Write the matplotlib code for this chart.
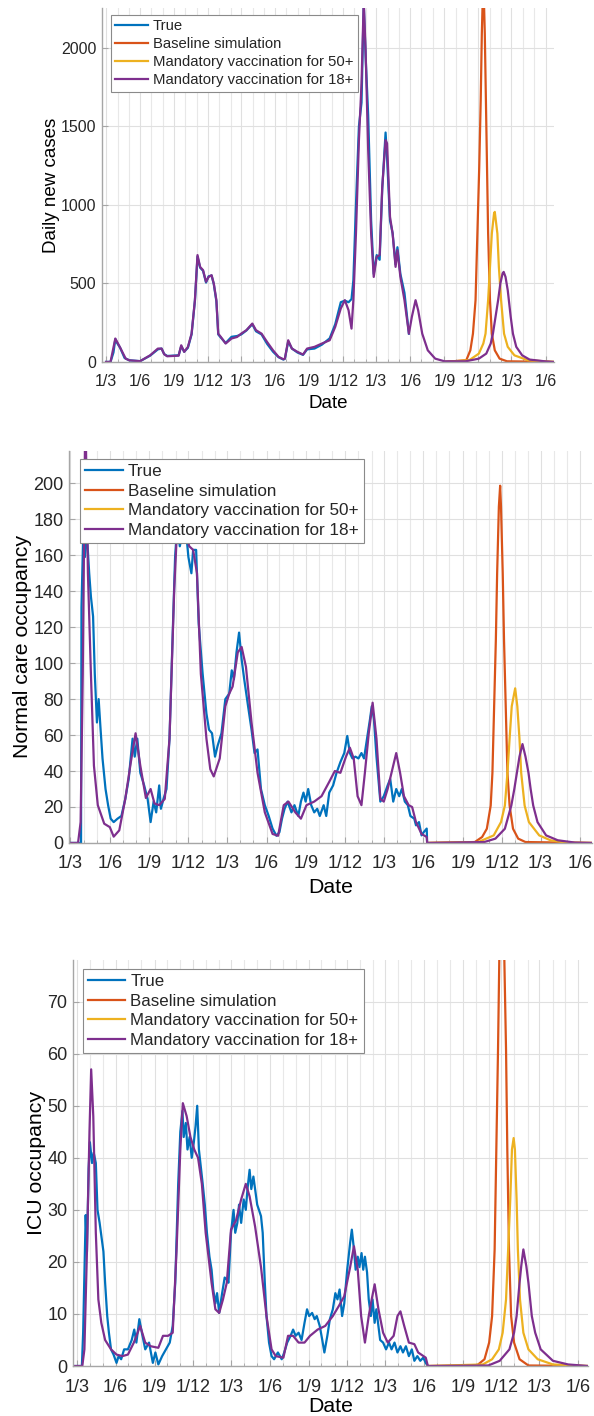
import numpy as np
import matplotlib
matplotlib.use("Agg")
import matplotlib.pyplot as plt
import matplotlib.dates as mdates
import matplotlib.ticker as ticker

# fecha de referencia: dias contados desde el 1/3/2020
start = np.datetime64('2020-03-01')

# ---------------- PANEL 1: casos diarios ----------------
cases_true_day = [0, 12, 20, 25, 30, 38, 50, 63, 92, 119, 140, 150, 157, 165, 196, 203, 211, 221, 231, 240,
                  247, 254, 262, 270, 277, 285, 291, 298, 303, 310, 323, 339, 354, 365, 379, 395, 405, 420,
                  435, 451, 466, 479, 483, 492, 502, 517, 532, 543, 563, 583, 604, 619, 634, 645, 655, 663,
                  668, 675, 683, 690, 696, 701, 708, 716, 723, 731, 739, 746, 755, 759, 767, 774, 782, 787,
                  795, 806, 818]
cases_true_val = [0, 0, 60, 145, 120, 90, 25, 10, 5, 40, 80, 85, 50, 38, 42, 100, 65, 90, 175, 390,
                  670, 600, 580, 505, 545, 550, 495, 385, 175, 155, 120, 160, 165, 175, 200, 240, 195, 175,
                  115, 65, 30, 15, 20, 130, 85, 60, 45, 80, 85, 110, 150, 240, 380, 390, 380, 400,
                  520, 1000, 1500, 1650, 2280, 1950, 1570, 900, 560, 680, 650, 1100, 1460, 1300, 900, 820, 620, 730,
                  560, 440, 180]

cases_18_day = [0, 12, 25, 37, 53, 63, 92, 119, 140, 150, 157, 165, 196, 203, 211, 221, 231, 240, 247, 254,
                262, 270, 277, 285, 291, 298, 303, 310, 323, 339, 354, 365, 379, 395, 405, 420, 435, 451,
                466, 479, 483, 492, 502, 517, 532, 543, 563, 583, 604, 619, 634, 645, 655, 663, 668, 675,
                683, 690, 696, 701, 708, 716, 723, 731, 739, 746, 755, 759, 767, 774, 782, 787, 795, 806,
                818, 826, 836, 843, 854, 869, 889, 914, 971, 1007, 1027, 1039, 1045, 1052, 1059, 1065, 1071,
                1074, 1079, 1085, 1093, 1099, 1108, 1124, 1144, 1185, 1210]
cases_18_val = [0, 0, 149, 96, 21, 10, 5, 42, 85, 85, 49, 36, 40, 106, 64, 95, 180, 393, 680, 605,
                584, 510, 541, 552, 499, 393, 180, 159, 117, 149, 159, 180, 202, 244, 202, 180, 127, 74,
                32, 17, 21, 138, 85, 64, 47, 85, 96, 117, 138, 223, 340, 393, 329, 212, 393, 817,
                1412, 1773, 2300, 1985, 1348, 817, 541, 669, 680, 1115, 1412, 1391, 923, 817, 605, 711, 541, 393,
                180, 287, 393, 329, 180, 74, 21, 4, 4, 21, 53, 117, 180, 287, 393, 499, 563,
                573, 541, 456, 287, 180, 96, 42, 15, 4, 0]

cases_base_day = [914, 973, 984, 991, 998, 1003, 1008, 1012, 1015, 1019, 1023, 1026, 1029, 1032, 1037,
                  1042, 1050, 1063, 1083, 1210]
cases_base_val = [0, 11, 74, 180, 393, 817, 1242, 1667, 2091, 2450, 2091, 1667, 1242, 817, 393,
                  180, 74, 21, 4, 0]

cases_50_day = [914, 981, 1007, 1019, 1025, 1032, 1037, 1042, 1048, 1050, 1057, 1061, 1067, 1075, 1085,
                1103, 1139, 1210]
cases_50_val = [0, 11, 53, 117, 180, 393, 605, 817, 945, 955, 817, 605, 393, 180, 96,
                42, 11, 0]

# ---------------- PANEL 2: ocupacion normal ----------------
ward_true_day = [0, 25, 26, 31, 34, 38, 44, 48, 53, 57, 62, 66, 70, 75, 82, 88, 94, 101, 110, 119,
                 128, 136, 145, 150, 156, 163, 172, 180, 187, 194, 200, 207, 211, 217, 224, 231, 238, 244,
                 249, 255, 261, 268, 275, 282, 286, 293, 299, 308, 317, 323, 330, 337, 343, 352, 361, 370,
                 376, 381, 387, 393, 399, 405, 414, 422, 429, 436, 444, 453, 462, 471, 480, 487, 493, 499,
                 506, 515, 522, 531, 537, 543, 548, 554, 561, 568, 575, 581, 590, 596, 603, 612, 620, 629,
                 638, 645, 651, 657, 664, 671, 678, 684, 691, 698, 702, 707, 713, 722, 730, 739, 745, 752,
                 759, 766, 772, 779, 786, 792, 801, 805, 812, 818, 823, 830, 831]
ward_true_val = [0, 0, 131, 181, 159, 174, 150, 137, 126, 94, 67, 80, 65, 47, 30, 21, 13.5, 11.6, 13.5, 15,
                 24.5, 35.6, 58, 48, 58, 39, 32, 24.5, 11.6, 23, 17, 32, 19, 24.5, 30, 58, 113, 159,
                 177, 165, 172, 177, 159, 150, 163, 163, 122, 94.5, 72, 63, 61, 48, 54, 61, 80, 83,
                 96, 91, 106, 117, 102, 91, 76, 63, 50, 52, 30, 21, 15, 8, 4, 6, 13.5, 19,
                 23, 17, 21, 15, 23, 28, 23, 30, 21, 17, 19, 15, 21, 15, 28, 32, 39, 45,
                 50, 59.5, 50, 47, 48, 47, 50, 47, 58, 69, 76, 69, 48, 23, 26, 32, 35.6, 23,
                 30, 26, 30, 23, 21, 15, 13.5, 9.8, 11.6, 4.2, 6, 8, 0]

ward_18_day = [0, 18, 24, 29, 34, 36, 41, 48, 55, 64, 79, 92, 101, 114, 128, 141, 152, 163, 176, 187,
               196, 207, 220, 231, 242, 251, 264, 277, 286, 295, 304, 317, 326, 334, 348, 361, 370, 378,
               390, 399, 409, 422, 436, 453, 471, 484, 497, 508, 524, 537, 550, 568, 585, 603, 616, 629,
               642, 651, 660, 669, 678, 686, 695, 704, 713, 722, 730, 739, 750, 759, 768, 777, 788, 796,
               805, 818, 830, 831, 964, 990, 1012, 1027, 1034, 1040, 1046, 1053, 1060, 1067, 1072, 1078,
               1088, 1108, 1135, 1175, 1215]
ward_18_val = [0, 0, 11.6, 94, 218, 228, 150, 94, 43, 21, 10.7, 8.8, 3.5, 7, 24.5, 45, 61, 43, 25, 30,
               22, 21, 24.5, 58, 141, 187, 176, 165, 163, 150, 94, 58, 41, 37, 47, 76, 83, 87,
               106, 109, 98, 67, 39, 17, 5, 4, 21, 23, 17, 13.5, 21, 23, 26, 34, 40, 39,
               48, 53, 47, 26, 21, 39, 61, 78, 58, 24.5, 23, 30, 41, 50, 39, 26, 21, 20,
               11.6, 5, 3.3, 0, 0.5, 2.4, 7.9, 20.8, 30, 39, 48, 55, 48, 39, 30, 20.8,
               11.6, 4.2, 1.5, 0.2, 0]

ward_base_day = [831, 942, 959, 970, 979, 983, 987, 991, 994, 998, 1001, 1003, 1007, 1010, 1014, 1018,
                 1023, 1031, 1043, 1060, 1215]
ward_base_val = [0, 0.5, 3.3, 7.9, 20.8, 39, 76, 113, 150, 187, 198.7, 187, 150, 113, 76, 39,
                 20.8, 7.9, 2.4, 0.5, 0]

ward_50_day = [831, 950, 986, 1003, 1012, 1018, 1023, 1028, 1036, 1041, 1046, 1050, 1058, 1068, 1092,
               1118, 1153, 1215]
ward_50_val = [0, 0.5, 4.2, 11.6, 20.8, 39, 58, 76, 86, 76, 58, 39, 20.8, 11.6, 4.2,
               1.5, 0.2, 0]

# ---------------- PANEL 3: ocupacion UCI ----------------
icu_true_day = [-9, 12, 15, 21, 24, 28, 31, 36, 40, 45, 49, 54, 58, 63, 67, 72, 76, 81, 87, 94,
                99, 105, 112, 121, 130, 136, 141, 148, 154, 162, 171, 180, 186, 193, 202, 211, 220, 227,
                233, 240, 245, 250, 253, 258, 262, 267, 272, 277, 281, 285, 289, 294, 298, 303, 308, 314,
                319, 323, 328, 332, 337, 344, 350, 355, 359, 365, 371, 375, 380, 384, 389, 395, 400, 404,
                409, 413, 418, 422, 427, 431, 436, 440, 445, 449, 455, 461, 467, 476, 485, 491, 498, 506,
                512, 518, 525, 532, 539, 545, 550, 557, 563, 568, 575, 581, 586, 593, 599, 606, 612, 617,
                622, 628, 633, 640, 647, 651, 656, 660, 665, 669, 674, 678, 682, 687, 691, 696, 700, 705,
                709, 714, 718, 725, 732, 739, 745, 752, 759, 766, 772, 779, 786, 793, 799, 806, 813, 820,
                826, 831]
icu_true_val = [0, 0, 6.4, 29, 22, 38, 43, 39, 41, 39, 30, 27.5, 25, 22, 16, 9.6, 6.4, 3.2, 2.2, 0.6,
                1.9, 1.3, 3.2, 3.2, 5, 7, 4.5, 9, 6.4, 3.2, 4.5, 0.6, 2.6, 0.3, 1.9, 3.2, 4.5, 7.7,
                16, 35, 45, 49, 44, 46.7, 41.6, 44, 40, 43, 46, 50, 41.6, 38, 35, 31, 25.6, 21,
                18.5, 14.7, 12, 14, 10.2, 14, 17, 16.6, 16, 25.6, 30, 25.6, 27.5, 31, 27.5, 32, 30, 34,
                37.7, 34, 36.4, 34, 31, 30, 28.8, 25.6, 16, 9.6, 4.5, 1.9, 1.3, 2.6, 1.3, 2.6, 4.5, 5.8,
                7, 5.8, 6.4, 5, 8.3, 10.9, 9.6, 10.2, 9, 9.6, 7.7, 5, 2.6, 5.8, 9, 10.9, 14, 12.8,
                14.7, 9.6, 12, 18.5, 23.7, 26.2, 22.4, 18.5, 21, 19, 21.7, 18.5, 21, 18, 12.8, 9.6, 12.8, 8.3,
                10.9, 7.7, 5, 4.5, 3.2, 4.5, 3.2, 4.5, 2.6, 3.8, 2.6, 3.8, 1.9, 3.2, 1, 1.9, 1, 1.6,
                0.6, 0]

icu_18_day = [-9, 13, 18, 24, 30, 34, 39, 45, 51, 58, 67, 81, 94, 108, 121, 135, 150, 162, 175, 193,
              204, 216, 227, 236, 245, 251, 260, 269, 278, 287, 296, 305, 319, 328, 337, 346, 355, 365,
              377, 389, 400, 409, 422, 436, 449, 461, 471, 489, 500, 512, 525, 539, 552, 570, 588, 606,
              620, 633, 647, 656, 665, 673, 682, 691, 698, 705, 714, 725, 736, 750, 759, 766, 775, 786,
              799, 808, 826, 831, 974, 1001, 1024, 1035, 1041, 1048, 1052, 1057, 1064, 1069, 1077, 1085,
              1098, 1127, 1163, 1210]
icu_18_val = [0, 0, 3.2, 22, 45, 57, 48, 25.6, 12.8, 8.3, 5, 3.2, 2.2, 1.9, 2.2, 4.5, 7.7, 4.5, 3.8, 3.5,
              5.8, 5.8, 6.4, 22, 41.6, 50.5, 48, 44, 41.6, 40, 35, 25.6, 16, 10.9, 10.2, 12.8, 16, 26.2,
              28, 32, 35, 32.6, 26.8, 19, 9.6, 3.2, 1.9, 1.6, 5.8, 5.8, 4.5, 4.5, 5.8, 7, 7.7, 9.6,
              11.5, 13.4, 19, 23, 18.5, 9.6, 4.5, 9.6, 12.8, 15.7, 10.9, 6.4, 4.5, 5.8, 9.6, 10.5, 7.7, 4.5,
              4.2, 2.6, 1.6, 0, 0.1, 1, 3.2, 6.4, 9.6, 16, 19.2, 22.4, 19.2, 16, 9.6, 6.4,
              3.2, 1, 0.3, 0]

icu_base_day = [831, 947, 965, 976, 983, 989, 993, 997, 1000, 1006, 1012, 1016, 1019, 1023, 1028,
                1035, 1048, 1069, 1210]
icu_base_val = [0, 0.1, 1.3, 4.5, 9.6, 22.4, 41.6, 60.7, 78, 88, 78, 60.7, 41.6, 22.4, 9.6,
                4.5, 1.3, 0.1, 0]

icu_50_day = [831, 961, 983, 999, 1008, 1016, 1021, 1026, 1030, 1034, 1037, 1041, 1044, 1049, 1057,
              1069, 1091, 1127, 1210]
icu_50_val = [0, 0.3, 1.3, 3.2, 6.4, 12.8, 22.4, 32, 41.6, 43.8, 41.6, 32, 22.4, 12.8, 6.4,
              3.2, 1.3, 0.3, 0]

# etiquetas y colores
labels = ["True", "Baseline simulation", "Mandatory vaccination for 50+", "Mandatory vaccination for 18+"]
colores = ["#0072BD", "#D95319", "#EDB120", "#7E2F8E"]


def fechas(dias):
    return start + np.array(np.round(dias), dtype='int64').astype('timedelta64[D]')


def fmt_fecha(x, pos=None):
    d = mdates.num2date(x)
    return f"{d.day}/{d.month}"


plt.rcParams['font.family'] = ['Liberation Sans', 'DejaVu Sans']
plt.rcParams['text.color'] = '#262626'

fig = plt.figure(figsize=(5.94, 14.16), dpi=100)

paneles = [
    dict(rect=[0.1717, 0.7444, 0.761, 0.2500],
         series=[(cases_true_day, cases_true_val), (cases_base_day, cases_base_val),
                 (cases_50_day, cases_50_val), (cases_18_day, cases_18_val)],
         ylabel="Daily new cases", ylim=(0, 2253), yticks=[0, 500, 1000, 1500, 2000],
         xlim=(-11, 1210), fs_tick=11.5, fs_lab=13.5, fs_leg=10.7, leg=(0.1869, 0.9894), lsp=0.26,
         xpad=4),
    dict(rect=[0.1162, 0.4047, 0.8805, 0.2768],
         series=[(ward_true_day, ward_true_val), (ward_base_day, ward_base_val),
                 (ward_50_day, ward_50_val), (ward_18_day, ward_18_val)],
         ylabel="Normal care occupancy", ylim=(0, 218), yticks=list(range(0, 201, 20)),
         xlim=(-3, 1215), fs_tick=13, fs_lab=15.3, fs_leg=12.3, leg=(0.1347, 0.6758), lsp=0.27,
         xpad=4),
    dict(rect=[0.1229, 0.0353, 0.867, 0.2867],
         series=[(icu_true_day, icu_true_val), (icu_base_day, icu_base_val),
                 (icu_50_day, icu_50_val), (icu_18_day, icu_18_val)],
         ylabel="ICU occupancy", ylim=(0, 78), yticks=list(range(0, 71, 10)),
         xlim=(-9, 1210), fs_tick=13, fs_lab=15.3, fs_leg=12.2, leg=(0.1397, 0.3157), lsp=0.27,
         xpad=1),
]

for p in paneles:
    ax = fig.add_axes(p['rect'])
    for (dd, vv), lab, col in zip(p['series'], labels, colores):
        ax.plot(fechas(dd), vv, color=col, lw=1.6, label=lab)

    x0, x1 = fechas([p['xlim'][0], p['xlim'][1]])
    ax.set_xlim(x0, x1)
    ax.set_ylim(*p['ylim'])
    ax.set_yticks(p['yticks'])

    ax.xaxis.set_major_locator(mdates.MonthLocator(bymonth=[3, 6, 9, 12]))
    ax.xaxis.set_minor_locator(mdates.MonthLocator())
    ax.xaxis.set_major_formatter(ticker.FuncFormatter(fmt_fecha))

    ax.set_axisbelow(True)
    ax.grid(True, which='major', color='#e0e0e0', lw=0.8)
    ax.grid(True, which='minor', axis='x', color='#e8e8e8', lw=0.8)

    for s in ['top', 'right']:
        ax.spines[s].set_visible(False)
    for s in ['left', 'bottom']:
        ax.spines[s].set_color('#a6a6a6')
        ax.spines[s].set_linewidth(1.0)

    ax.tick_params(which='both', direction='in', color='#a6a6a6', labelcolor='#262626')
    ax.tick_params(which='major', length=4, labelsize=p['fs_tick'])
    ax.tick_params(axis='x', which='major', pad=9)
    ax.tick_params(axis='y', which='major', pad=4)
    ax.tick_params(which='minor', length=2.5)

    ax.set_xlabel("Date", fontsize=p['fs_lab'], labelpad=p['xpad'])
    ax.set_ylabel(p['ylabel'], fontsize=p['fs_lab'], labelpad=1)

    leg = ax.legend(loc='upper left', bbox_to_anchor=p['leg'], bbox_transform=fig.transFigure,
                    fontsize=p['fs_leg'], frameon=True, fancybox=False, framealpha=1,
                    edgecolor='#8a8a8a', borderaxespad=0, handlelength=2.2, handletextpad=0.3,
                    labelspacing=p['lsp'], borderpad=0.3)
    leg.get_frame().set_linewidth(0.8)

fig.savefig("out.png", dpi=100)
